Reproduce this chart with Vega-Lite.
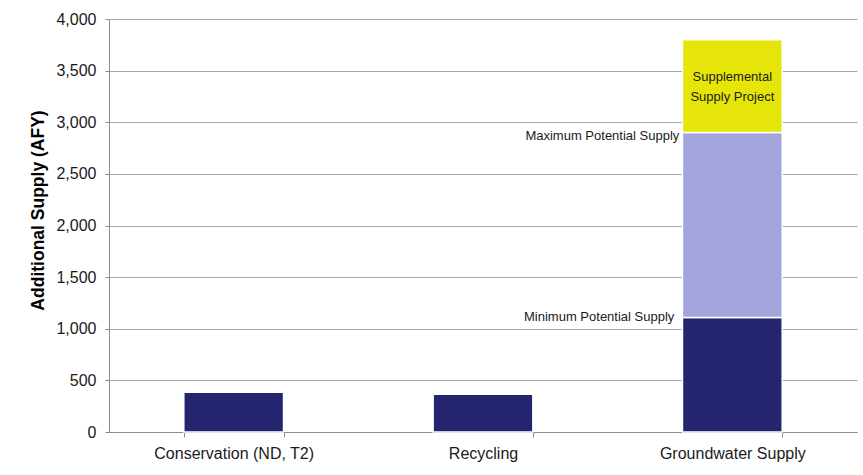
{
  "$schema": "https://vega.github.io/schema/vega-lite/v6.json",
  "width": 748,
  "height": 413,
  "autosize": {"type": "none"},
  "padding": {"left": 109, "top": 19, "right": 6, "bottom": 43},
  "background": "#ffffff",
  "config": {"view": {"stroke": null}, "font": "Liberation Sans"},
  "datasets": {
    "bars": [
      {"category": "Conservation (ND, T2)", "segment": "Minimum Potential Supply", "order": 1, "value": 385},
      {"category": "Recycling", "segment": "Minimum Potential Supply", "order": 1, "value": 365},
      {"category": "Groundwater Supply", "segment": "Minimum Potential Supply", "order": 1, "value": 1110},
      {"category": "Groundwater Supply", "segment": "Maximum Potential Supply", "order": 2, "value": 1790},
      {"category": "Groundwater Supply", "segment": "Supplemental Supply Project", "order": 3, "value": 900}
    ],
    "labels": [
      {"category": "Groundwater Supply", "value": 2900, "kind": "max", "label": "Maximum Potential Supply"},
      {"category": "Groundwater Supply", "value": 1110, "kind": "min", "label": "Minimum Potential Supply"},
      {"category": "Groundwater Supply", "value": 3440, "kind": "sup", "label": ["Supplemental", "Supply Project"]}
    ]
  },
  "encoding": {
    "x": {
      "field": "category",
      "type": "nominal",
      "sort": ["Conservation (ND, T2)", "Recycling", "Groundwater Supply"],
      "scale": {"paddingInner": 0.6, "paddingOuter": 0.3},
      "axis": {
        "title": null,
        "labelAngle": 0,
        "labelFontSize": 16,
        "labelColor": "#1a1a1a",
        "labelPadding": 8,
        "tickBand": "extent",
        "tickSize": 5,
        "tickColor": "#8c8c8c",
        "domainColor": "#8c8c8c"
      }
    }
  },
  "layer": [
    {
      "data": {"name": "bars"},
      "mark": {"type": "bar", "stroke": "#ffffff", "strokeWidth": 1.5},
      "encoding": {
        "y": {
          "field": "value",
          "type": "quantitative",
          "stack": "zero",
          "scale": {"domain": [0, 4000], "nice": false},
          "axis": {
            "title": "Additional Supply (AFY)",
            "titleFontSize": 17.5,
            "titleFontWeight": "bold",
            "titleColor": "#000000",
            "titlePadding": 8,
            "titleY": 191,
            "values": [0, 500, 1000, 1500, 2000, 2500, 3000, 3500, 4000],
            "format": ",.0f",
            "labelFontSize": 16,
            "labelColor": "#1a1a1a",
            "labelPadding": 9,
            "tickSize": 4,
            "tickColor": "#8c8c8c",
            "domainColor": "#8c8c8c",
            "gridColor": "#a6a6a6"
          }
        },
        "color": {
          "field": "segment",
          "type": "nominal",
          "scale": {
            "domain": ["Minimum Potential Supply", "Maximum Potential Supply", "Supplemental Supply Project"],
            "range": ["#24246f", "#a4a4dd", "#e5e50a"]
          },
          "legend": null
        },
        "order": {"field": "order", "type": "quantitative"}
      }
    },
    {
      "data": {"name": "labels"},
      "transform": [{"filter": "datum.kind === 'max'"}],
      "mark": {"type": "text", "align": "right", "baseline": "middle", "dx": -53, "dy": 3, "font": "Liberation Sans", "fontSize": 13, "color": "#1a1a1a"},
      "encoding": {
        "y": {"field": "value", "type": "quantitative", "stack": null},
        "text": {"field": "label"}
      }
    },
    {
      "data": {"name": "labels"},
      "transform": [{"filter": "datum.kind === 'min'"}],
      "mark": {"type": "text", "align": "right", "baseline": "middle", "dx": -58, "dy": 0, "font": "Liberation Sans", "fontSize": 13, "color": "#1a1a1a"},
      "encoding": {
        "y": {"field": "value", "type": "quantitative", "stack": null},
        "text": {"field": "label"}
      }
    },
    {
      "data": {"name": "labels"},
      "transform": [{"filter": "datum.kind === 'sup'"}],
      "mark": {"type": "text", "align": "center", "baseline": "middle", "lineHeight": 20, "font": "Liberation Sans", "fontSize": 13, "color": "#1a1a1a"},
      "encoding": {
        "y": {"field": "value", "type": "quantitative", "stack": null},
        "text": {"field": "label"}
      }
    }
  ]
}
